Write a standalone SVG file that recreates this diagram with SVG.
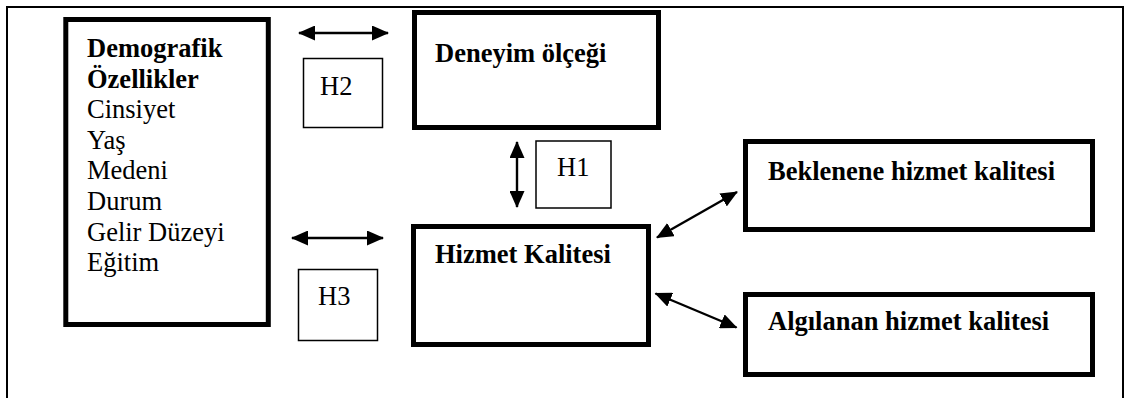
<svg xmlns="http://www.w3.org/2000/svg" width="1128" height="398" viewBox="0 0 1128 398">
  <style>
    .frame { fill: none; stroke: #000; stroke-width: 2; }
    .box { fill: #fff; stroke: #000; stroke-width: 5; }
    .hyp { fill: #fff; stroke: #000; stroke-width: 1.5; }
    text { font-family: "Liberation Serif", "DejaVu Serif", serif; font-size: 26.5px; font-weight: normal; font-style: normal; fill: #000; }
    text.b { font-weight: bold; }
    .link { stroke: #000; stroke-width: 2.4; fill: none; marker-start: url(#head); marker-end: url(#head); }
  </style>
  <defs>
    <marker id="head" viewBox="0 0 17 15" markerWidth="17" markerHeight="15" refX="16" refY="7.5" orient="auto-start-reverse" markerUnits="userSpaceOnUse">
      <path d="M0,0 L17,7.5 L0,15 z" fill="#000"/>
    </marker>
  </defs>

  <rect width="1128" height="398" fill="#fff"/>

  <!-- outer frame: open at the bottom -->
  <path class="frame" d="M7,398 V7 H1123 V398"/>

  <g id="demografik">
    <rect class="box" x="65.8" y="19.5" width="202.5" height="305"/>
    <text class="b" x="87" y="57">Demografik</text>
    <text class="b" x="87" y="87.6">Özellikler</text>
    <text x="87" y="118.2">Cinsiyet</text>
    <text x="87" y="148.8">Yaş</text>
    <text x="87" y="179.4">Medeni</text>
    <text x="87" y="210">Durum</text>
    <text x="87" y="240.6">Gelir Düzeyi</text>
    <text x="87" y="271.2">Eğitim</text>
  </g>

  <g id="deneyim">
    <rect class="box" x="414.5" y="12.5" width="244" height="115"/>
    <text class="b" x="435" y="62">Deneyim ölçeği</text>
  </g>

  <g id="hizmet">
    <rect class="box" x="413.5" y="226.5" width="235" height="118"/>
    <text class="b" x="435" y="263">Hizmet Kalitesi</text>
  </g>

  <g id="beklenene">
    <rect class="box" x="745.5" y="141.5" width="347" height="88"/>
    <text class="b" x="768" y="179.5">Beklenene hizmet kalitesi</text>
  </g>

  <g id="algilanan">
    <rect class="box" x="745.5" y="294.5" width="347" height="80"/>
    <text class="b" x="768" y="330">Algılanan hizmet kalitesi</text>
  </g>

  <g id="h2">
    <rect class="hyp" x="303.5" y="58.5" width="79" height="69"/>
    <text x="320" y="95">H2</text>
  </g>

  <g id="h3">
    <rect class="hyp" x="298.5" y="269.5" width="79" height="71"/>
    <text x="318" y="305">H3</text>
  </g>

  <g id="h1">
    <rect class="hyp" x="536" y="141" width="75" height="67"/>
    <text x="557" y="176">H1</text>
  </g>

  <g id="connectors">
    <line class="link" x1="299" y1="33" x2="388" y2="33"/>
    <line class="link" x1="292" y1="238" x2="383" y2="238"/>
    <line class="link" x1="517" y1="142" x2="517" y2="207"/>
    <line class="link" x1="657" y1="237.5" x2="737" y2="192"/>
    <line class="link" x1="655.5" y1="293.5" x2="736.5" y2="327.5"/>
  </g>
</svg>
